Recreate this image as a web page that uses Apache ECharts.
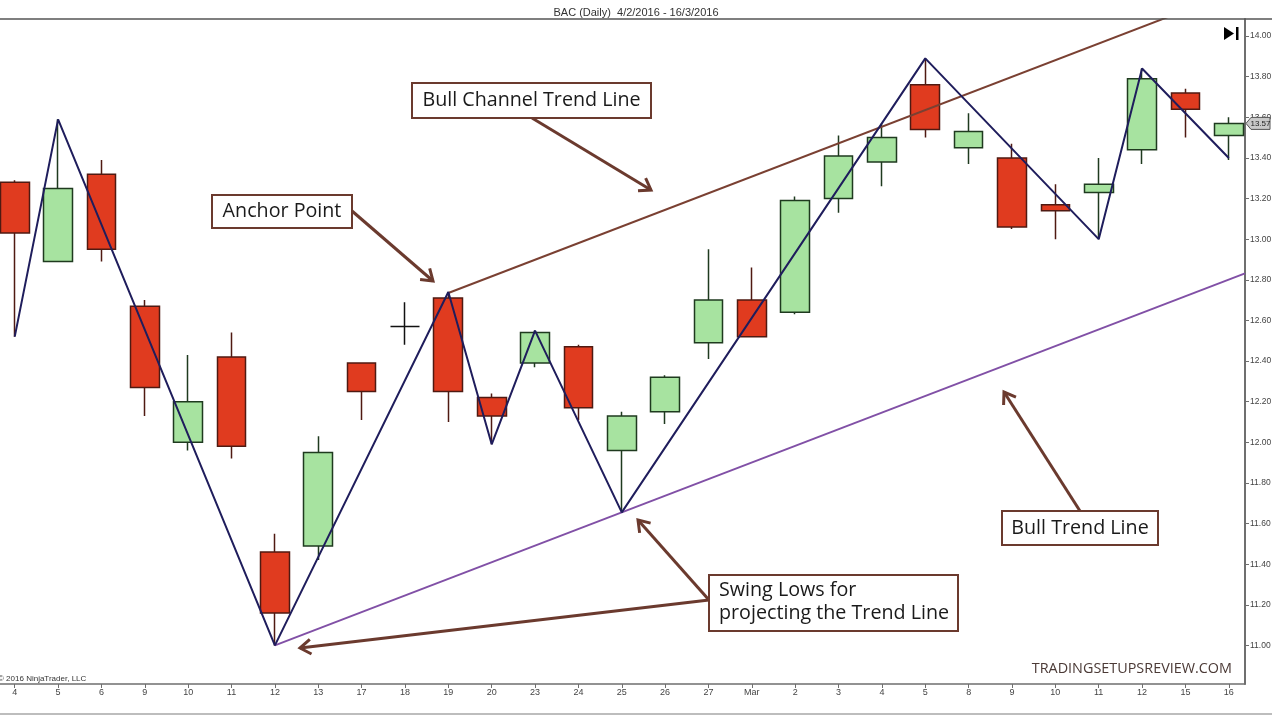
<!DOCTYPE html>
<html><head><meta charset="utf-8">
<script src="https://cdn.jsdelivr.net/npm/echarts@6/dist/echarts.min.js"></script>
<style>html,body{margin:0;padding:0;background:#fff;overflow:hidden}#c{width:1272px;height:716px}</style>
</head><body><div id="c"></div>
<script>
// ---- data ----
const categories = ['4','5','6','9','10','11','12','13','17','18','19','20','23','24','25','26','27','Mar','2','3','4','5','8','9','10','11','12','15','16'];
const openV  = [13.28,12.89,13.32,12.67,12.00,12.42,11.46,11.49,12.39,12.57,12.71,12.22,12.39,12.47,11.96,12.15,12.49,12.70,12.64,13.20,13.38,13.76,13.45,13.40,13.17,13.23,13.44,13.72,13.51];
const closeV = [13.03,13.25,12.95,12.27,12.20,11.98,11.16,11.95,12.25,12.57,12.25,12.13,12.54,12.17,12.13,12.32,12.70,12.52,13.19,13.41,13.50,13.54,13.53,13.06,13.14,13.27,13.79,13.64,13.57];
const lowV   = [12.52,12.89,12.89,12.13,11.96,11.92,11.00,11.42,12.11,12.48,12.10,11.99,12.37,12.11,11.66,12.09,12.41,12.52,12.63,13.13,13.26,13.50,13.37,13.05,13.00,13.00,13.37,13.50,13.39];
const highV  = [13.29,13.59,13.39,12.70,12.43,12.54,11.55,12.03,12.39,12.69,12.74,12.24,12.55,12.48,12.15,12.33,12.95,12.86,13.21,13.51,13.57,13.89,13.62,13.47,13.27,13.40,13.84,13.74,13.60];
const zigIdx = [0,1,6,10,11,12,14,21,25,26,28];
const zigVal = [12.52,13.59,11.00,12.74,11.99,12.55,11.655,13.89,13.00,13.84,13.40];
const swingLows = [[6, 11.00], [14, 11.655]];
const anchorPoint = [10, 12.735];
const xMin = -0.34, xMax = 28.374;
const yTicks = [11.00,11.20,11.40,11.60,11.80,12.00,12.20,12.40,12.60,12.80,13.00,13.20,13.40,13.60,13.80,14.00];
const titleText = 'BAC (Daily)  4/2/2016 - 16/3/2016';

// ---- derived ----
const xIdx = categories.map((c, i) => i);
const candleData = categories.map((c, i) => [i, openV[i], closeV[i], lowV[i], highV[i]]);
const zigzag = zigIdx.map((k, j) => [k, zigVal[j]]);
const slope = (swingLows[1][1] - swingLows[0][1]) / (swingLows[1][0] - swingLows[0][0]);
const trendData = [swingLows[0], [xMax, swingLows[0][1] + slope * (xMax - swingLows[0][0])]];
const channelData = [anchorPoint, [xMax, anchorPoint[1] + slope * (xMax - anchorPoint[0])]];

const chart = echarts.init(document.getElementById('c'));
const AX = '#6f6f6f', LBL = '#444', FONT = '"Liberation Sans", Arial, sans-serif';
const BROWN = '#6b3a2e';

chart.setOption({
  animation: false,
  backgroundColor: '#fff',
  title: { text: titleText, left: 'center', top: 2, textStyle: { fontSize: 11, fontWeight: 'normal', color: '#333', fontFamily: FONT } },
  grid: { left: 0, right: 27, top: 19, bottom: 32, containLabel: false, outerBoundsMode: 'none' },
  xAxis: { type: 'value', min: xMin, max: xMax,
    axisLine: { onZero: false, lineStyle: { color: AX, width: 1.5 } },
    axisTick: { show: true, length: 4, customValues: xIdx, lineStyle: { color: AX } },
    axisLabel: { customValues: xIdx, fontSize: 9, color: LBL, margin: 4, fontFamily: FONT, formatter: v => categories[Math.round(v)] },
    splitLine: { show: false } },
  yAxis: { type: 'value', position: 'right', min: 10.81, max: 14.084,
    axisLine: { show: true, onZero: false, lineStyle: { color: AX, width: 2 } },
    axisTick: { show: true, length: 4, customValues: yTicks, lineStyle: { color: AX } },
    axisLabel: { customValues: yTicks, fontSize: 8.5, color: LBL, margin: 5, fontFamily: FONT, formatter: v => v.toFixed(2) },
    splitLine: { show: false } },
  series: [
    { type: 'candlestick', data: candleData, barWidth: '68%',
      itemStyle: { color: '#a7e3a0', color0: '#e03b1f', borderColor: '#1f3a1f', borderColor0: '#4f1a12', borderColorDoji: '#111', borderWidth: 1.5 } },
    { type: 'line', data: zigzag, symbol: 'none', z: 5,
      lineStyle: { color: '#1f1d5c', width: 2 } },
    { type: 'line', data: trendData, symbol: 'none', z: 4,
      lineStyle: { color: '#8150a6', width: 2 } },
    { type: 'line', data: channelData, symbol: 'none', z: 4,
      lineStyle: { color: '#7a4032', width: 2 } }
  ]
});

// ---- annotations ----
function arrow(x1, y1, x2, y2) {
  const a = Math.atan2(y2 - y1, x2 - x1), L = 13, h = 0.6;
  const p1 = [x2 - L * Math.cos(a - h), y2 - L * Math.sin(a - h)];
  const p2 = [x2 - L * Math.cos(a + h), y2 - L * Math.sin(a + h)];
  return [
    { type: 'line', shape: { x1, y1, x2, y2 }, style: { stroke: BROWN, lineWidth: 3 }, z: 20 },
    { type: 'polyline', shape: { points: [p1, [x2, y2], p2] }, style: { stroke: BROWN, lineWidth: 3, fill: null, lineJoin: 'miter' }, z: 20 }
  ];
}
function box(x, y, w, h) {
  return { type: 'rect', shape: { x, y, width: w, height: h }, style: { fill: '#fff', stroke: BROWN, lineWidth: 2 }, z: 21 };
}
function txt(x, y, t, align) {
  return { type: 'text', x, y, style: { text: t, font: '19.7px "Open Sans", sans-serif', fill: '#1a1a1a', align: align || 'center', verticalAlign: 'middle' }, z: 22 };
}
const lastY = chart.convertToPixel({ yAxisIndex: 0 }, closeV[closeV.length - 1]);
const els = [
  { type: 'line', shape: { x1: 0, y1: 19, x2: 1272, y2: 19 }, style: { stroke: '#555', lineWidth: 1.5 }, z: 30 },
  { type: 'line', shape: { x1: 0, y1: 714, x2: 1272, y2: 714 }, style: { stroke: '#bdbdbd', lineWidth: 2 }, z: 30 },
  ...arrow(532, 118, 651, 190),
  ...arrow(352, 211, 433, 281),
  ...arrow(709, 600, 300, 648),
  ...arrow(709, 600, 638, 520),
  ...arrow(1080, 511, 1004, 392),
  box(412, 83, 239, 35), txt(531.5, 100.5, 'Bull Channel Trend Line'),
  box(212, 195, 140, 33), txt(282, 211.5, 'Anchor Point'),
  box(709, 575, 249, 56), txt(719, 590, 'Swing Lows for', 'left'), txt(719, 613, 'projecting the Trend Line', 'left'),
  box(1002, 511, 156, 34), txt(1080, 528, 'Bull Trend Line'),
  { type: 'text', x: 1232, y: 669, style: { text: 'TRADINGSETUPSREVIEW.COM', font: '14.4px "Open Sans", sans-serif', fill: '#4b3a36', align: 'right', verticalAlign: 'middle' }, z: 22 },
  { type: 'text', x: -2, y: 679, style: { text: '© 2016 NinjaTrader, LLC', font: '8px "Liberation Sans", Arial, sans-serif', fill: '#333', align: 'left', verticalAlign: 'middle' }, z: 22 },
  { type: 'polygon', shape: { points: [[1224, 27], [1224, 40], [1234, 33.5]] }, style: { fill: '#000' }, z: 22 },
  { type: 'rect', shape: { x: 1236, y: 27, width: 2.5, height: 13 }, style: { fill: '#000' }, z: 22 },
  { type: 'polygon', shape: { points: [[1246, lastY], [1251, lastY - 6], [1270, lastY - 6], [1270, lastY + 6], [1251, lastY + 6]] }, style: { fill: '#c9c9c9', stroke: '#555', lineWidth: 1 }, z: 40 },
  { type: 'text', x: 1260.5, y: lastY, style: { text: closeV[closeV.length - 1].toFixed(2), font: '8px "Liberation Sans", Arial, sans-serif', fill: '#222', align: 'center', verticalAlign: 'middle' }, z: 41 }
];
chart.setOption({ graphic: { elements: els } });
</script>
</body></html>
